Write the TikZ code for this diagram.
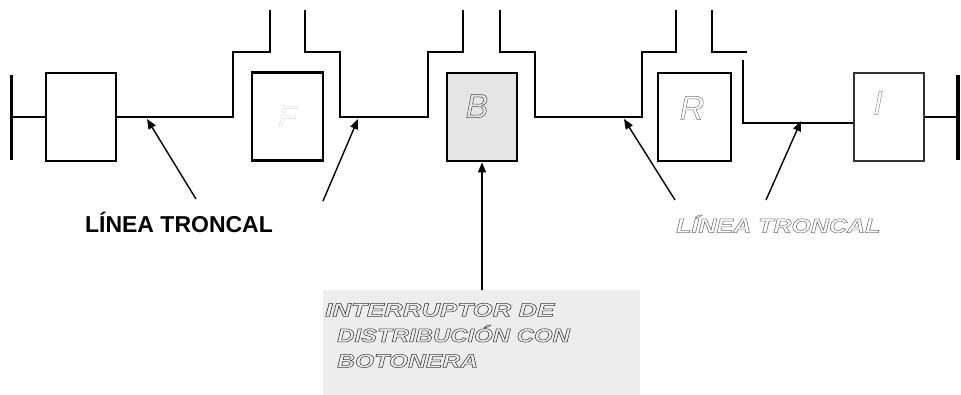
\documentclass[tikz,border=0pt]{standalone}
\usepackage{fontspec}
\usepackage{graphicx}
\setmainfont{Liberation Sans}
\usetikzlibrary{arrows.meta}
\newcommand{\outl}[1]{\special{pdf:literal direct 1 Tr 0.5 w}#1\special{pdf:literal direct 0 Tr}}
\begin{document}
\begin{tikzpicture}[x=1pt,y=-1pt,
  trunk/.style={line width=2.6pt,line join=miter},
  bar/.style={line width=3.5pt},
  unit/.style={draw,line width=2.8pt,minimum width=70pt,minimum height=88pt,inner sep=0pt},
  thinunit/.style={draw=black!80,line width=1.4pt,minimum width=70pt,minimum height=88pt,inner sep=0pt},
  ptr/.style={line width=1.4pt,-{Triangle[length=10pt,width=8pt]}},
  letter/.style={font=\fontsize{34}{34}\selectfont\itshape,text=black!70},
  ghost/.style={text=black!75,align=left,inner sep=0pt}]
\useasboundingbox (0,0) rectangle (961,395);
% units
\node[unit] (u1) at (81,117) {};
\node[unit,minimum width=71pt] (uf) at (287.5,116.5) {\fontsize{30}{30}\selectfont\itshape\color{black!15}\outl{F}};
\node[unit,fill=black!10] (ub) at (482,117) {};
\node[letter] at (477,106) {\outl{B}};
\node[unit,minimum width=73pt] (ur) at (694.5,117) {};
\node[letter,text=black!55] at (692,108) {\outl{R}};
\node[thinunit] (ui) at (889,117) {};
\node[letter,text=black!45] at (878,103) {\outl{I}};
% end bars
\coordinate (lbt) at (11.5,75); \coordinate (lbb) at (11.5,160);
\coordinate (lbm) at (11.5,117);
\draw[bar] (lbt) -- (lbb);
\coordinate (rbt) at (958,75); \coordinate (rbb) at (958,160);
\coordinate (rbm) at (958,117);
\draw[bar] (rbt) -- (rbb);
% trunk line
\draw[trunk] (lbm) -- (u1.west);
\coordinate (a1) at (233,117);
\coordinate (a2) at (270,10);
\draw[trunk] (u1.east) -- (a1) |- (a2 |- 0,52) -- (a2);
\coordinate (b1) at (305,10); \coordinate (b2) at (340,117);
\coordinate (b3) at (428,117); \coordinate (b4) at (463,10);
\draw[trunk] (b1) -- (305,52) -- (340,52) -- (b2) -- (b3) -- (428,52) -- (463,52) -- (b4);
\coordinate (c1) at (500,10); \coordinate (c2) at (535,117);
\coordinate (c3) at (642,117); \coordinate (c4) at (676,10);
\draw[trunk] (c1) -- (500,52) -- (535,52) -- (c2) -- (c3) -- (642,52) -- (676,52) -- (c4);
\coordinate (d1) at (712,10); \coordinate (d2) at (747,52);
\draw[trunk] (d1) -- (712,52) -- (d2);
\coordinate (e1) at (743,60);
\draw[trunk] (e1) -- (743,123) -- (ui.west |- 0,123);
\draw[trunk] (ui.east) -- (rbm);
% pointers
\coordinate (p1s) at (196,199); \coordinate (p1e) at (147,119);
\coordinate (p2s) at (323,201); \coordinate (p2e) at (358,119);
\coordinate (p3s) at (675,200); \coordinate (p3e) at (624,119);
\coordinate (p4s) at (766,200); \coordinate (p4e) at (801,121);
\coordinate (p5s) at (482,290);
\draw[ptr] (p1s) -- (p1e);
\draw[ptr] (p2s) -- (p2e);
\draw[ptr] (p3s) -- (p3e);
\draw[ptr] (p4s) -- (p4e);
\draw[ptr] (p5s) -- (ub.south);
% labels
\node[font=\fontsize{23}{23}\selectfont\bfseries,inner sep=0pt] (lt1) at (179,222) {LÍNEA TRONCAL};
\node[ghost,text=black!55,anchor=west] (lt2) at (676,224) {\scalebox{1.25}[1]{\fontsize{20}{20}\selectfont\bfseries\itshape\outl{LÍNEA TRONCAL}}};
\fill[black!7] (323,290) rectangle (640,395);
\node[ghost,anchor=north west,font=\fontsize{19}{25.5}\selectfont\bfseries\itshape] (sw) at (325,303)
  {\scalebox{1.36}[1]{\outl{INTERRUPTOR DE}}\\\hspace*{12pt}\scalebox{1.26}[1]{\outl{DISTRIBUCIÓN CON}}\\\hspace*{12pt}\scalebox{1.3}[1]{\outl{BOTONERA}}};
\end{tikzpicture}
\end{document}
